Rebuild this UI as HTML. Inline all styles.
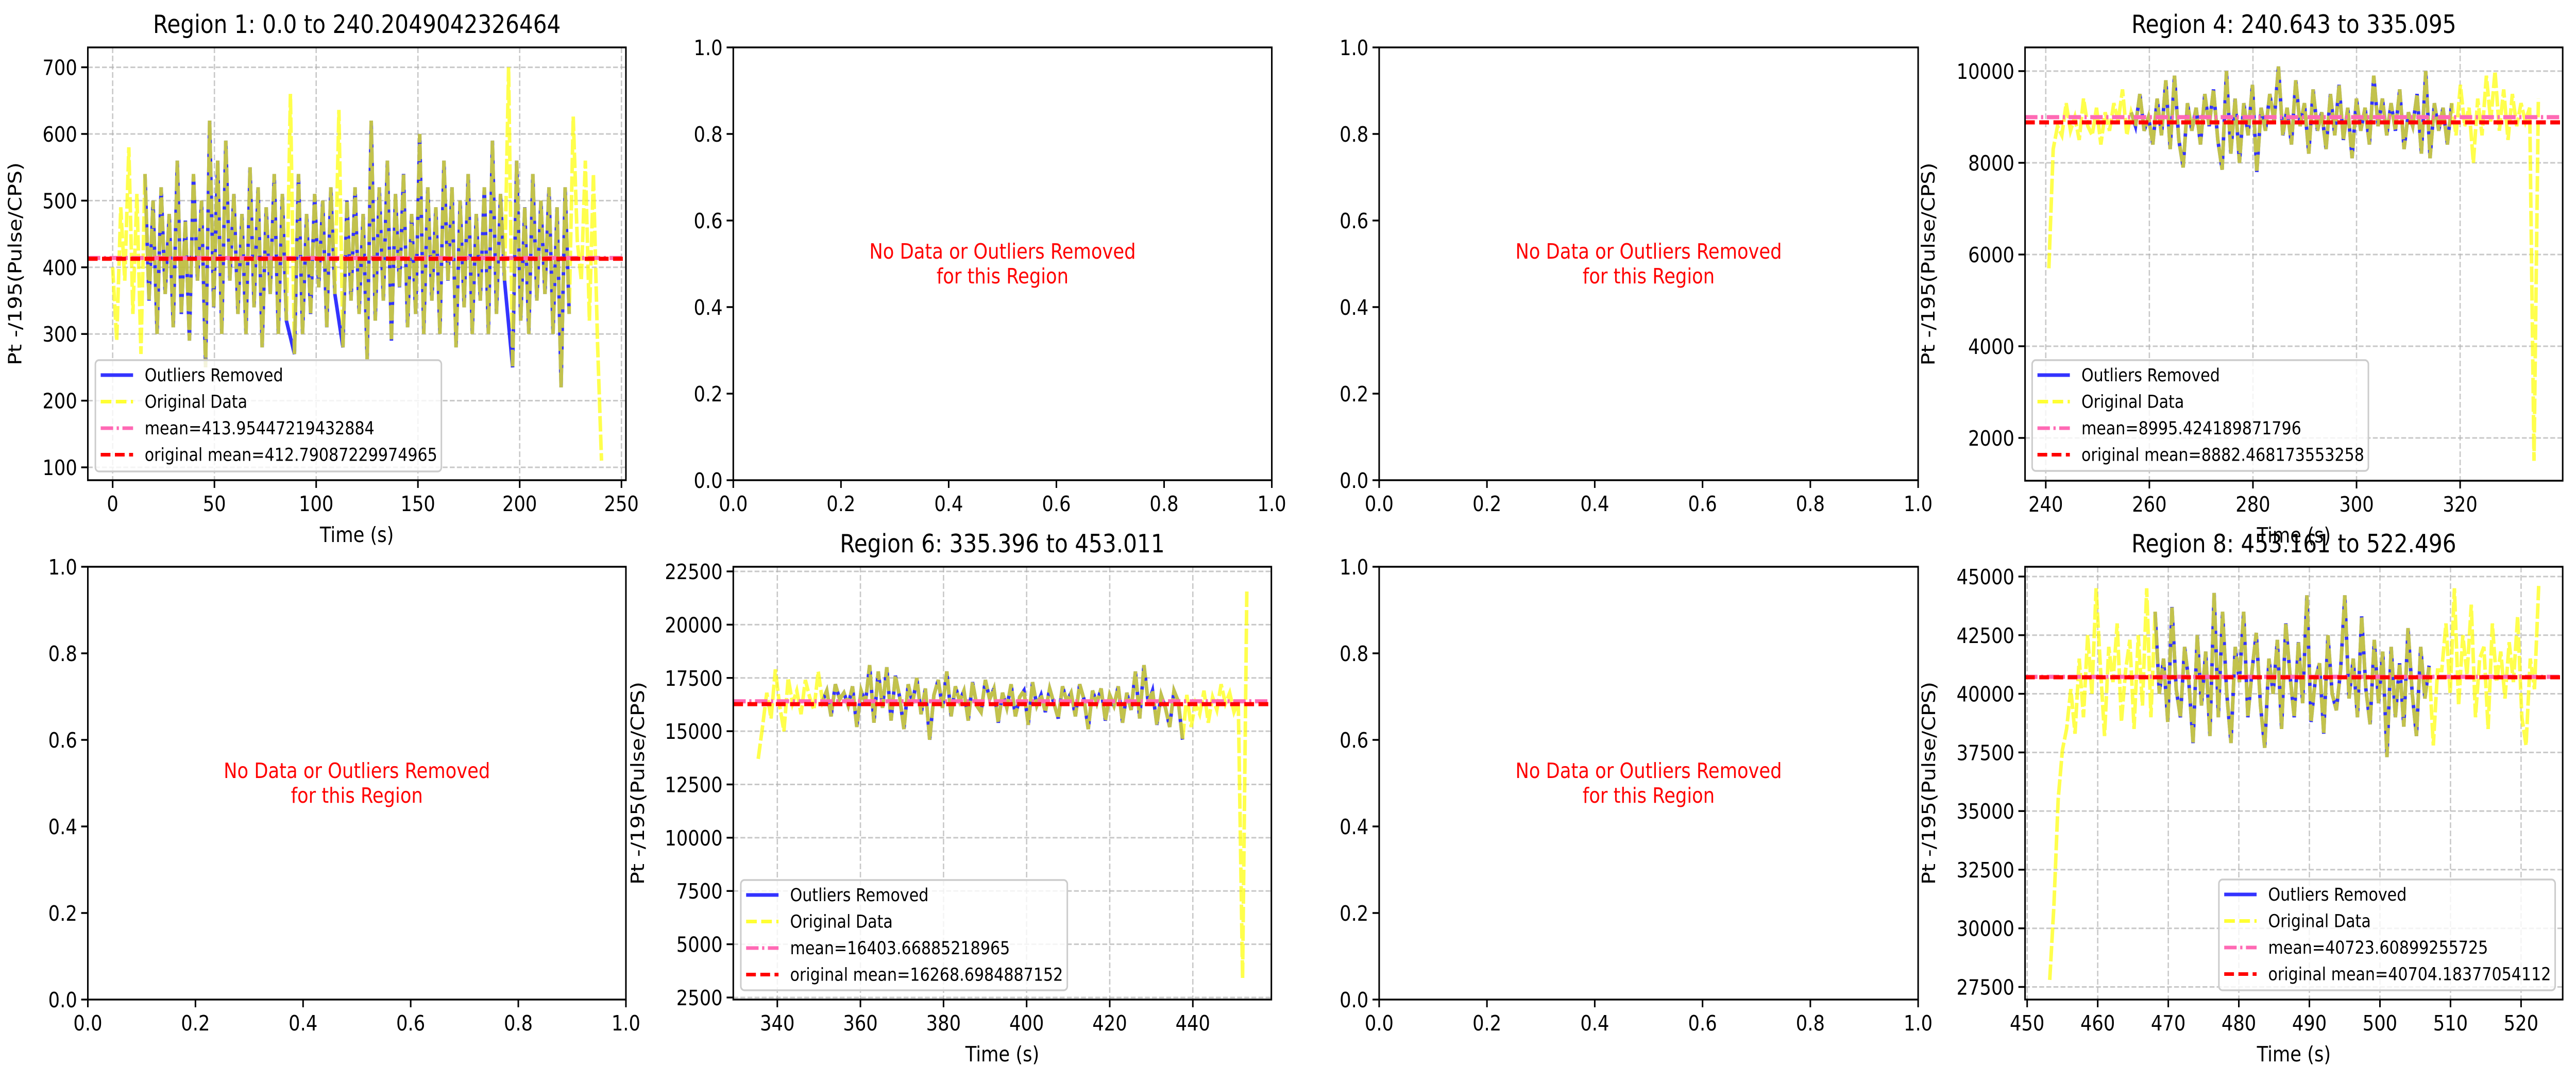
<!DOCTYPE html>
<html><head><meta charset="utf-8"><style>
html,body{margin:0;padding:0;background:#fff;overflow:hidden;width:100%;height:100%;}
svg{display:block;width:100vw;height:100vh;font-family:"DejaVu Sans","Liberation Sans",sans-serif;}
</style></head><body>
<svg id="fig" xmlns="http://www.w3.org/2000/svg" viewBox="0 0 5807 2100" preserveAspectRatio="none"></svg>
<script>
// ---- Data ----
const p1Range=[0,240.2];
const p1Clean=[14,226];
const p1Bounds=[215,630];
const p1Mean=413.95447219432884, p1OrigMean=412.79087229974965;
const p1Values=[400,290,490,380,580,330,510,
270,540,350,500,300,520,360,480,310,560,330,470,290,540,380,500,250,620,340,560,300,590,380,510,330,480,300,550,340,520,280,490,360,540,300,510,320,660,270,540,300,480,330,510,370,500,310,520,360,636,280,500,350,520,330,480,260,620,320,520,350,560,290,510,370,540,310,480,330,600,300,520,350,490,300,560,380,520,280,500,340,540,300,480,350,520,300,590,330,510,380,700,250,560,320,490,300,540,350,500,360,520,300,490,220,520,330,
626,440,380,560,320,540,290,110];

const p4Range=[240.6,335.1];
const p4Clean=[256,319];
const p4Bounds=[7700,10150];
const p4Mean=8995.424189871796, p4OrigMean=8882.468173553258;
const p4Values=[5700,8300,8800,8600,9300,8700,9000,8500,9400,8800,8600,9200,8400,9100,8700,9300,8900,9600,8600,9100,8800,9500,8700,9000,
8400,9400,8600,9800,8300,9900,8500,7900,9300,8700,9200,8400,9500,8800,9600,8500,7850,10000,8200,9400,8000,9300,8600,9700,7800,9200,8700,9500,8900,10100,8600,9200,8400,9800,8800,9300,8200,9600,8700,9100,8300,9500,8600,9700,8500,9200,8100,9400,8700,9200,8400,9900,8800,9400,8600,9300,8700,9600,8300,9100,8800,9500,8200,10000,8100,9300,8700,9200,8400,9300,8600,
9700,8800,9200,8000,9400,8600,9900,8900,10000,8700,9600,8500,9500,8800,9300,8900,9200,1500,9400];

const p6Range=[335.4,453.0];
const p6Clean=[350,438];
const p6Bounds=[14400,18300];
const p6Mean=16403.66885218965, p6OrigMean=16268.6984887152;
const p6Values=[13700,15200,16800,15600,17900,16200,15000,17500,16300,16900,15800,17400,16600,16000,17800,16400,16900,15700,17200,16500,
16800,16200,17100,15200,16900,16300,18100,15400,17800,16100,18000,15500,17600,16600,15100,17200,16300,17500,15800,17000,14600,16700,17400,16100,17800,15700,17100,16400,16900,15500,17300,16200,15900,17400,16500,17000,15400,16800,16100,17200,15700,16600,16900,15300,17300,16200,16700,15900,17000,16300,15600,17100,16400,16800,15700,17200,16500,15100,16900,16300,17000,15500,16700,16200,17100,15400,16800,16000,17800,15600,18100,16300,16900,15300,16700,16100,15200,16900,16400,
14600,16700,15200,16300,15800,16900,15400,16600,16000,17200,16300,16800,15900,16400,3400,21700];

const p8Range=[453.2,522.5];
const p8Clean=[468,507];
const p8Bounds=[37000,44700];
const p8Mean=40723.60899255725, p8OrigMean=40704.18377054112;
const p8Values=[27800,31000,35500,37600,38500,40200,38300,41500,39000,42500,40000,44500,41200,38200,42000,40500,43000,38800,41000,42300,
38500,42500,39500,44500,39000,43500,40000,41500,38800,43700,40200,39000,42000,40500,37900,42500,39500,41800,38200,44300,39000,43500,40000,37900,42000,40500,43500,39000,41000,42600,39500,37700,41500,40000,42300,38500,43000,40800,39000,42200,39600,44200,38800,40600,41300,38300,42500,40000,39300,41000,44200,39800,41500,39000,43300,40200,38700,42300,39600,41800,37300,42000,39000,41300,38600,42800,40000,38200,42000,39800,41200,37800,41000,
41000,43000,40000,44500,39500,42500,40800,43800,39000,41500,42000,38500,43000,40500,41800,39800,42200,40500,43300,39000,37800,41500,40200,44600];

const p1XTicks=[0,50,100,150,200,250], p1YTicks=[100,200,300,400,500,600,700];
const p4XTicks=[240,260,280,300,320], p4YTicks=[2000,4000,6000,8000,10000];
const p6XTicks=[340,360,380,400,420,440], p6YTicks=[2500,5000,7500,10000,12500,15000,17500,20000,22500];
const p8XTicks=[450,460,470,480,490,500,510,520], p8YTicks=[27500,30000,32500,35000,37500,40000,42500,45000];
const emptyTicks=[0.0,0.2,0.4,0.6,0.8,1.0];

const titles=["Region 1: 0.0 to 240.2049042326464","Region 4: 240.643 to 335.095","Region 6: 335.396 to 453.011","Region 8: 453.161 to 522.496"];

// ---- Layout ----
const NS="http://www.w3.org/2000/svg";
const svg=document.getElementById('fig');
function mk(tag,attrs,parent){const e=document.createElementNS(NS,tag);for(const k in attrs)e.setAttribute(k,attrs[k]);(parent||svg).appendChild(e);return e;}
function txt(s,attrs,parent){const e=mk('text',attrs,parent);e.textContent=s;return e;}

function axes(name,box,xlim,ylim,xt,yt,opts){
  const g=mk('g',{});
  
  
  const [L,T,R,B]=box;
  const sx=v=>L+(v-xlim[0])/(xlim[1]-xlim[0])*(R-L);
  const sy=v=>B-(v-ylim[0])/(ylim[1]-ylim[0])*(B-T);
  const clipId='clip-'+name;
  const cp=mk('clipPath',{id:clipId},g);mk('rect',{x:L,y:T,width:R-L,height:B-T},cp);
  if(opts.grid){
    const gg=mk('g',{stroke:'#b0b0b0','stroke-opacity':0.7,'stroke-width':3,'stroke-dasharray':'11,5'},g);
    
    
    xt.forEach(v=>mk('line',{x1:sx(v),x2:sx(v),y1:T,y2:B},gg));
    yt.forEach(v=>mk('line',{y1:sy(v),y2:sy(v),x1:L,x2:R},gg));
  }
  const tg=mk('g',{'font-size':41,fill:'#000'},g);
  xt.forEach(v=>{
    mk('line',{x1:sx(v),x2:sx(v),y1:B,y2:B+15,stroke:'#000','stroke-width':3.5},tg);
    const t=txt(opts.empty?v.toFixed(1):String(v),{x:sx(v),y:B+60,'text-anchor':'middle'},tg);
    
    
  });
  yt.forEach(v=>{
    mk('line',{x1:L-15,x2:L,y1:sy(v),y2:sy(v),stroke:'#000','stroke-width':3.5},tg);
    const t=txt(opts.empty?v.toFixed(1):String(v),{x:L-24,y:sy(v)+15,'text-anchor':'end'},tg);
    
    
  });
  return {g,sx,sy,L,T,R,B,clipId};
}

function frame(a){
  const r=mk('rect',{x:a.L,y:a.T,width:a.R-a.L,height:a.B-a.T,fill:'none',stroke:'#000','stroke-width':3.5},a.g);
  
  
}

function emptyPanel(name,box){
  const a=axes(name,box,[0,1],[0,1],emptyTicks,emptyTicks,{empty:true});
  frame(a);
  const cx=(a.L+a.R)/2, cy=(a.T+a.B)/2;
  const t=txt('',{x:cx,y:cy,'text-anchor':'middle',fill:'#ff0000','font-size':41},a.g);
  
  
  mk('tspan',{x:cx,dy:-10},t).textContent='No Data or Outliers Removed';
  mk('tspan',{x:cx,dy:48},t).textContent='for this Region';
}

function dataPanel(name,box,xlim,ylim,xt,yt,range,clean,bounds,values,mean,origMean,title,legendBox,ylabelX,showXlabel){
  const a=axes(name,box,xlim,ylim,xt,yt,{grid:true});
  const n=values.length, step=(range[1]-range[0])/(n-1);
  const orig=[],cl=[];
  values.forEach((v,i)=>{const t=range[0]+i*step;orig.push([a.sx(t),a.sy(v)]);
    if(t>=clean[0]&&t<=clean[1]&&v>=bounds[0]&&v<=bounds[1])cl.push([a.sx(t),a.sy(v)]);});
  const pg=mk('g',{'clip-path':`url(#${a.clipId})`},a.g);
  const l1=mk('polyline',{points:cl.map(p=>p.join(',')).join(' '),fill:'none',stroke:'#0000ff','stroke-opacity':0.8,'stroke-width':8,'stroke-linejoin':'miter'},pg);
  
  
  const l2=mk('polyline',{points:orig.map(p=>p.join(',')).join(' '),fill:'none',stroke:'#ffff00','stroke-opacity':0.7,'stroke-width':8,'stroke-dasharray':'30,6','stroke-linejoin':'miter'},pg);
  
  
  const m1=mk('line',{x1:a.L,x2:a.R,y1:a.sy(mean),y2:a.sy(mean),stroke:'#ff69b4','stroke-width':8,'stroke-dasharray':'28,8,5,8'},pg);
  
  
  const m2=mk('line',{x1:a.L,x2:a.R,y1:a.sy(origMean),y2:a.sy(origMean),stroke:'#ff0000','stroke-width':8,'stroke-dasharray':'22,10'},pg);
  
  
  frame(a);
  const tt=txt(title,{x:(a.L+a.R)/2,y:a.T-28,'text-anchor':'middle','font-size':49},a.g);
  
  
  if(showXlabel){const xl=txt('Time (s)',{x:(a.L+a.R)/2,y:a.B+120,'text-anchor':'middle','font-size':41},a.g);
    
    }
  const cy=(a.T+a.B)/2;
  const yl=txt('Pt -/195(Pulse/CPS)',{x:ylabelX,y:cy,'text-anchor':'middle','font-size':41,transform:`rotate(-90 ${ylabelX} ${cy})`},a.g);
  
  
  const [lx,ly,lw,lh]=legendBox;
  const lg=mk('g',{},a.g);
  
  
  mk('rect',{x:lx,y:ly,width:lw,height:lh,rx:8,fill:'#fff','fill-opacity':0.8,stroke:'#cccccc','stroke-width':3.5},lg);
  const items=[['Outliers Removed','#3333ff',null],['Original Data','#ffff33','24,10'],['mean='+mean,'#ff69b4','28,8,5,8'],['original mean='+origMean,'#ff0000','22,10']];
  items.forEach((it,i)=>{const y=ly+29+i*51.5;
    const h=mk('line',{x1:lx+12,x2:lx+85,y1:y,y2:y,stroke:it[1],'stroke-width':7},lg);
    if(it[2])h.setAttribute('stroke-dasharray',it[2]);
    const t=txt(it[0],{x:lx+111,y:y+12,'font-size':35},lg);
    
    });
}

dataPanel('panel-region-1',[198,92,1411,932],[-12.2,252.2],[80.7,729.8],p1XTicks,p1YTicks,p1Range,p1Clean,p1Bounds,p1Values,p1Mean,p1OrigMean,titles[0],[215,699,780,216],48,true);
emptyPanel('panel-region-2',[1653,92,2867,932]);
emptyPanel('panel-region-3',[3109,92,4324,932]);
dataPanel('panel-region-4',[4565,92,5777,933],[236.0,339.8],[1067,10517],p4XTicks,p4YTicks,p4Range,p4Clean,p4Bounds,p4Values,p4Mean,p4OrigMean,titles[1],[4581,699,758,215],4361,true);
emptyPanel('panel-region-5',[198,1100,1411,1940]);
dataPanel('panel-region-6',[1653,1100,2866,1940],[329.4,458.9],[2403,22718],p6XTicks,p6YTicks,p6Range,p6Clean,p6Bounds,p6Values,p6Mean,p6OrigMean,titles[2],[1670,1708,736,214],1452,true);
emptyPanel('panel-region-7',[3109,1100,4324,1940]);
dataPanel('panel-region-8',[4565,1100,5777,1940],[449.7,525.9],[26962,45417],p8XTicks,p8YTicks,p8Range,p8Clean,p8Bounds,p8Values,p8Mean,p8OrigMean,titles[3],[5002,1707,758,215],4362,true);
</script>
</body></html>
